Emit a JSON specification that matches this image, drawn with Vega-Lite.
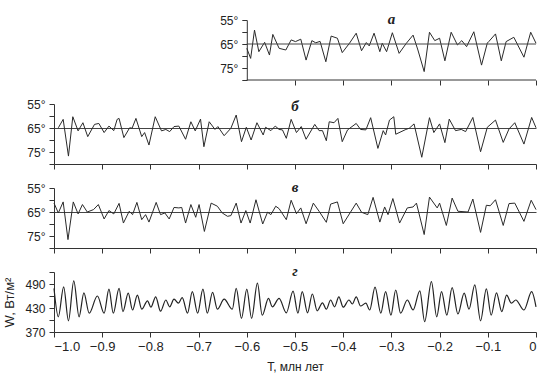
{
  "$schema": "https://vega.github.io/schema/vega-lite/v6.json",
  "padding": {"left": 3, "top": 11, "right": 8, "bottom": 4},
  "background": "white",
  "config": {
    "view": {"stroke": null},
    "axis": {"domainColor": "#333", "tickColor": "#333", "labelColor": "#222", "titleColor": "#222", "labelFont": "Liberation Sans", "titleFont": "Liberation Sans", "labelFontSize": 12, "grid": false, "tickSize": 5, "titleFontWeight": "normal", "labelPadding": 4, "labelOverlap": false},
    "title": {"font": "Liberation Serif", "fontSize": 15, "fontStyle": "italic", "fontWeight": "bold", "color": "#222", "anchor": "middle", "frame": "group", "baseline": "alphabetic"}
  },
  "datasets": {
    "a": [
      {"T": -0.600, "v": 66.8}, {"T": -0.592, "v": 71.0}, {"T": -0.584, "v": 59.2}, {"T": -0.575, "v": 68.2}, {"T": -0.563, "v": 64.3}, {"T": -0.553, "v": 69.6}, {"T": -0.546, "v": 61.0}, {"T": -0.533, "v": 66.8}, {"T": -0.519, "v": 67.5}, {"T": -0.508, "v": 63.3}, {"T": -0.499, "v": 64.0}, {"T": -0.488, "v": 63.0}, {"T": -0.477, "v": 71.7}, {"T": -0.465, "v": 63.6}, {"T": -0.457, "v": 64.5}, {"T": -0.448, "v": 63.9}, {"T": -0.436, "v": 72.4}, {"T": -0.425, "v": 61.7}, {"T": -0.412, "v": 62.6}, {"T": -0.402, "v": 68.6}, {"T": -0.387, "v": 64.7}, {"T": -0.373, "v": 60.5}, {"T": -0.362, "v": 67.8}, {"T": -0.352, "v": 64.4}, {"T": -0.346, "v": 65.8}, {"T": -0.336, "v": 60.5}, {"T": -0.324, "v": 68.2}, {"T": -0.319, "v": 64.7}, {"T": -0.310, "v": 68.2}, {"T": -0.298, "v": 60.3}, {"T": -0.284, "v": 68.9}, {"T": -0.269, "v": 64.7}, {"T": -0.255, "v": 61.3}, {"T": -0.245, "v": 67.5}, {"T": -0.232, "v": 76.5}, {"T": -0.221, "v": 60.1}, {"T": -0.210, "v": 63.6}, {"T": -0.200, "v": 62.6}, {"T": -0.189, "v": 72.0}, {"T": -0.176, "v": 60.1}, {"T": -0.163, "v": 65.4}, {"T": -0.154, "v": 63.6}, {"T": -0.144, "v": 66.1}, {"T": -0.129, "v": 59.9}, {"T": -0.113, "v": 73.8}, {"T": -0.101, "v": 64.6}, {"T": -0.098, "v": 64.0}, {"T": -0.084, "v": 60.8}, {"T": -0.072, "v": 72.0}, {"T": -0.062, "v": 64.0}, {"T": -0.046, "v": 62.2}, {"T": -0.025, "v": 70.5}, {"T": -0.011, "v": 60.1}, {"T": 0.0, "v": 64.7}
    ],
    "b": [
      {"T": -0.991, "v": 64.9}, {"T": -0.981, "v": 61.4}, {"T": -0.970, "v": 76.7}, {"T": -0.961, "v": 60.3}, {"T": -0.950, "v": 66.2}, {"T": -0.940, "v": 62.8}, {"T": -0.930, "v": 68.6}, {"T": -0.916, "v": 63.5}, {"T": -0.907, "v": 63.1}, {"T": -0.896, "v": 66.9}, {"T": -0.886, "v": 64.2}, {"T": -0.876, "v": 66.1}, {"T": -0.869, "v": 61.4}, {"T": -0.865, "v": 61.0}, {"T": -0.855, "v": 69.0}, {"T": -0.843, "v": 64.9}, {"T": -0.838, "v": 65.1}, {"T": -0.830, "v": 61.0}, {"T": -0.818, "v": 68.6}, {"T": -0.812, "v": 66.9}, {"T": -0.803, "v": 72.1}, {"T": -0.790, "v": 60.3}, {"T": -0.777, "v": 66.2}, {"T": -0.768, "v": 65.6}, {"T": -0.760, "v": 66.5}, {"T": -0.751, "v": 64.4}, {"T": -0.741, "v": 64.2}, {"T": -0.727, "v": 69.7}, {"T": -0.716, "v": 62.4}, {"T": -0.707, "v": 66.2}, {"T": -0.696, "v": 61.3}, {"T": -0.689, "v": 72.8}, {"T": -0.678, "v": 62.4}, {"T": -0.666, "v": 65.6}, {"T": -0.660, "v": 64.4}, {"T": -0.647, "v": 68.2}, {"T": -0.633, "v": 65.1}, {"T": -0.622, "v": 59.6}, {"T": -0.611, "v": 70.7}, {"T": -0.601, "v": 64.7}, {"T": -0.591, "v": 70.0}, {"T": -0.579, "v": 62.8}, {"T": -0.566, "v": 67.9}, {"T": -0.561, "v": 64.7}, {"T": -0.550, "v": 66.1}, {"T": -0.541, "v": 64.2}, {"T": -0.533, "v": 65.6},
      {"T": -0.526, "v": 65.8}, {"T": -0.518, "v": 69.3}, {"T": -0.508, "v": 61.4}, {"T": -0.497, "v": 66.9}, {"T": -0.487, "v": 64.4}, {"T": -0.477, "v": 69.7}, {"T": -0.459, "v": 63.5}, {"T": -0.450, "v": 66.1}, {"T": -0.443, "v": 66.1}, {"T": -0.435, "v": 70.3}, {"T": -0.429, "v": 62.4}, {"T": -0.419, "v": 62.8}, {"T": -0.411, "v": 61.0}, {"T": -0.402, "v": 70.7}, {"T": -0.391, "v": 65.8}, {"T": -0.373, "v": 63.1}, {"T": -0.364, "v": 65.6}, {"T": -0.353, "v": 65.8}, {"T": -0.343, "v": 60.7}, {"T": -0.328, "v": 73.5}, {"T": -0.317, "v": 66.1}, {"T": -0.312, "v": 67.9}, {"T": -0.304, "v": 61.7}, {"T": -0.295, "v": 60.3}, {"T": -0.291, "v": 67.6}, {"T": -0.270, "v": 65.6}, {"T": -0.263, "v": 65.1}, {"T": -0.253, "v": 63.3}, {"T": -0.237, "v": 77.2}, {"T": -0.221, "v": 60.7}, {"T": -0.212, "v": 66.9}, {"T": -0.200, "v": 63.3}, {"T": -0.189, "v": 71.1}, {"T": -0.180, "v": 61.3}, {"T": -0.167, "v": 66.1}, {"T": -0.155, "v": 65.6}, {"T": -0.146, "v": 66.5}, {"T": -0.131, "v": 60.6}, {"T": -0.115, "v": 74.9}, {"T": -0.101, "v": 64.7}, {"T": -0.084, "v": 61.7}, {"T": -0.068, "v": 71.0}, {"T": -0.056, "v": 65.4}, {"T": -0.044, "v": 62.8}, {"T": -0.025, "v": 71.7}, {"T": -0.009, "v": 60.6}, {"T": 0.0, "v": 64.9}
    ],
    "c": [
      {"T": -1.000, "v": 61.3}, {"T": -0.991, "v": 65.4}, {"T": -0.981, "v": 60.8}, {"T": -0.971, "v": 76.5}, {"T": -0.960, "v": 60.8}, {"T": -0.950, "v": 65.8}, {"T": -0.941, "v": 61.9}, {"T": -0.931, "v": 65.0}, {"T": -0.918, "v": 64.0}, {"T": -0.908, "v": 61.9}, {"T": -0.896, "v": 67.9}, {"T": -0.886, "v": 64.4}, {"T": -0.876, "v": 65.8}, {"T": -0.865, "v": 61.4}, {"T": -0.856, "v": 69.6}, {"T": -0.844, "v": 64.7}, {"T": -0.837, "v": 66.1}, {"T": -0.828, "v": 61.0}, {"T": -0.818, "v": 68.2}, {"T": -0.810, "v": 66.1}, {"T": -0.803, "v": 69.2}, {"T": -0.788, "v": 61.0}, {"T": -0.779, "v": 66.1}, {"T": -0.770, "v": 65.4}, {"T": -0.761, "v": 67.9}, {"T": -0.751, "v": 63.1}, {"T": -0.741, "v": 63.3}, {"T": -0.735, "v": 63.1}, {"T": -0.727, "v": 69.6}, {"T": -0.716, "v": 61.9}, {"T": -0.706, "v": 67.2}, {"T": -0.699, "v": 61.9}, {"T": -0.688, "v": 73.1}, {"T": -0.674, "v": 61.3}, {"T": -0.661, "v": 62.6}, {"T": -0.651, "v": 65.4}, {"T": -0.640, "v": 66.8}, {"T": -0.633, "v": 66.5}, {"T": -0.622, "v": 61.3}, {"T": -0.612, "v": 69.6}, {"T": -0.602, "v": 64.4}, {"T": -0.593, "v": 69.6}, {"T": -0.581, "v": 59.9}, {"T": -0.567, "v": 70.0}, {"T": -0.557, "v": 65.1}, {"T": -0.550, "v": 66.1}, {"T": -0.540, "v": 62.6}, {"T": -0.533, "v": 63.6},
      {"T": -0.518, "v": 68.2}, {"T": -0.508, "v": 60.1}, {"T": -0.497, "v": 65.7}, {"T": -0.488, "v": 63.3}, {"T": -0.477, "v": 69.9}, {"T": -0.462, "v": 61.3}, {"T": -0.450, "v": 64.7}, {"T": -0.435, "v": 69.3}, {"T": -0.426, "v": 61.7}, {"T": -0.412, "v": 60.8}, {"T": -0.400, "v": 69.9}, {"T": -0.373, "v": 61.3}, {"T": -0.362, "v": 65.1}, {"T": -0.349, "v": 66.1}, {"T": -0.338, "v": 58.9}, {"T": -0.324, "v": 69.2}, {"T": -0.314, "v": 62.9}, {"T": -0.307, "v": 66.1}, {"T": -0.297, "v": 59.4}, {"T": -0.283, "v": 69.6}, {"T": -0.267, "v": 63.3}, {"T": -0.255, "v": 62.9}, {"T": -0.248, "v": 61.3}, {"T": -0.232, "v": 74.4}, {"T": -0.221, "v": 58.8}, {"T": -0.205, "v": 63.3}, {"T": -0.200, "v": 61.3}, {"T": -0.186, "v": 70.6}, {"T": -0.174, "v": 59.2}, {"T": -0.162, "v": 64.7}, {"T": -0.141, "v": 65.0}, {"T": -0.131, "v": 59.6}, {"T": -0.115, "v": 73.5}, {"T": -0.103, "v": 62.2}, {"T": -0.095, "v": 62.4}, {"T": -0.084, "v": 59.9}, {"T": -0.068, "v": 70.6}, {"T": -0.056, "v": 61.5}, {"T": -0.044, "v": 61.3}, {"T": -0.025, "v": 68.9}, {"T": -0.010, "v": 60.1}, {"T": 0.0, "v": 64.0}
    ],
    "w": [
      {"T": -1.000, "W": 479}, {"T": -0.991, "W": 408}, {"T": -0.980, "W": 483}, {"T": -0.970, "W": 398}, {"T": -0.959, "W": 498}, {"T": -0.948, "W": 408}, {"T": -0.938, "W": 468}, {"T": -0.927, "W": 417}, {"T": -0.910, "W": 460}, {"T": -0.896, "W": 417}, {"T": -0.886, "W": 477}, {"T": -0.877, "W": 417}, {"T": -0.865, "W": 479}, {"T": -0.857, "W": 421}, {"T": -0.846, "W": 467}, {"T": -0.837, "W": 425}, {"T": -0.827, "W": 462}, {"T": -0.818, "W": 427}, {"T": -0.806, "W": 448}, {"T": -0.799, "W": 432}, {"T": -0.789, "W": 458}, {"T": -0.779, "W": 422}, {"T": -0.768, "W": 450}, {"T": -0.760, "W": 433}, {"T": -0.751, "W": 452}, {"T": -0.742, "W": 442}, {"T": -0.734, "W": 456}, {"T": -0.723, "W": 417}, {"T": -0.713, "W": 471}, {"T": -0.702, "W": 417}, {"T": -0.691, "W": 477}, {"T": -0.682, "W": 417}, {"T": -0.671, "W": 469}, {"T": -0.661, "W": 427}, {"T": -0.647, "W": 452}, {"T": -0.630, "W": 427}, {"T": -0.622, "W": 479}, {"T": -0.611, "W": 404}, {"T": -0.600, "W": 477}, {"T": -0.590, "W": 404}, {"T": -0.578, "W": 492}, {"T": -0.568, "W": 412}, {"T": -0.555, "W": 454}, {"T": -0.547, "W": 433}, {"T": -0.533, "W": 454},
      {"T": -0.518, "W": 418}, {"T": -0.504, "W": 472}, {"T": -0.494, "W": 417}, {"T": -0.485, "W": 471}, {"T": -0.474, "W": 418}, {"T": -0.464, "W": 465}, {"T": -0.454, "W": 423}, {"T": -0.443, "W": 443}, {"T": -0.435, "W": 427}, {"T": -0.426, "W": 450}, {"T": -0.418, "W": 433}, {"T": -0.409, "W": 458}, {"T": -0.400, "W": 432}, {"T": -0.388, "W": 450}, {"T": -0.381, "W": 440}, {"T": -0.373, "W": 458}, {"T": -0.364, "W": 435}, {"T": -0.353, "W": 442}, {"T": -0.345, "W": 425}, {"T": -0.334, "W": 482}, {"T": -0.322, "W": 417}, {"T": -0.312, "W": 471}, {"T": -0.301, "W": 412}, {"T": -0.291, "W": 475}, {"T": -0.281, "W": 417}, {"T": -0.267, "W": 450}, {"T": -0.255, "W": 425}, {"T": -0.241, "W": 473}, {"T": -0.231, "W": 396}, {"T": -0.217, "W": 496}, {"T": -0.206, "W": 408}, {"T": -0.196, "W": 471}, {"T": -0.185, "W": 412}, {"T": -0.174, "W": 481}, {"T": -0.162, "W": 415}, {"T": -0.149, "W": 467}, {"T": -0.139, "W": 427}, {"T": -0.127, "W": 488}, {"T": -0.115, "W": 398}, {"T": -0.103, "W": 478}, {"T": -0.093, "W": 412}, {"T": -0.082, "W": 468}, {"T": -0.071, "W": 421}, {"T": -0.061, "W": 462}, {"T": -0.051, "W": 442}, {"T": -0.042, "W": 450}, {"T": -0.025, "W": 425}, {"T": -0.009, "W": 471}, {"T": 0.0, "W": 433}
    ]
  },
  "vconcat": [
    {
      "width": 482, "height": 60,
      "title": {"text": "а", "offset": -12.5, "dx": 96.4},
      "resolve": {"axis": {"x": "independent", "y": "independent"}},
      "layer": [
        {
          "data": {"name": "a"},
          "mark": {"type": "line", "color": "#2a2a2a", "strokeWidth": 1},
          "encoding": {
            "x": {"field": "T", "type": "quantitative", "scale": {"domain": [-1, 0], "nice": false, "zero": false},
                  "axis": {"title": null, "labels": false, "domain": false, "values": [-0.5, -0.4, -0.3, -0.2, -0.1, 0]}},
            "y": {"field": "v", "type": "quantitative", "scale": {"domain": [55, 80], "reverse": true, "nice": false, "zero": false},
                  "axis": {"title": null, "offset": -192.8, "labelOverlap": false, "values": [55, 60, 65, 70, 75, 80], "labelExpr": "datum.value == 55 || datum.value == 65 || datum.value == 75 ? datum.value + '°' : ''"}}
          }
        },
        {
          "data": {"values": [{}]},
          "mark": {"type": "rule", "color": "#444", "strokeWidth": 1},
          "encoding": {"x": {"datum": -0.6, "axis": null}, "x2": {"datum": 0}, "y": {"datum": 65, "axis": null}}
        },
        {
          "data": {"values": [{}]},
          "mark": {"type": "rule", "color": "#333", "strokeWidth": 1},
          "encoding": {"x": {"datum": -0.6, "axis": null}, "x2": {"datum": 0}, "y": {"datum": 80, "axis": null}}
        }
      ]
    },
    {
      "width": 482, "height": 60,
      "title": {"text": "б", "offset": -16},
      "data": {"name": "b"},
      "mark": {"type": "line", "color": "#2a2a2a", "strokeWidth": 1},
      "encoding": {
        "x": {"field": "T", "type": "quantitative", "scale": {"domain": [-1, 0], "nice": false, "zero": false},
              "axis": {"title": null, "labels": false, "values": [-1, -0.9, -0.8, -0.7, -0.6, -0.5, -0.4, -0.3, -0.2, -0.1, 0]}},
        "y": {"field": "v", "type": "quantitative", "scale": {"domain": [55, 80], "reverse": true, "nice": false, "zero": false},
              "axis": {"title": null, "labelOverlap": false, "values": [55, 60, 65, 70, 75, 80], "labelExpr": "datum.value == 55 || datum.value == 65 || datum.value == 75 ? datum.value + '°' : ''",
                       "grid": true, "gridColor": "#444", "gridWidth": 1, "gridOpacity": {"condition": {"test": "datum.value == 65", "value": 1}, "value": 0}}}
      }
    },
    {
      "width": 482, "height": 60,
      "title": {"text": "в", "offset": -12.5},
      "data": {"name": "c"},
      "mark": {"type": "line", "color": "#2a2a2a", "strokeWidth": 1},
      "encoding": {
        "x": {"field": "T", "type": "quantitative", "scale": {"domain": [-1, 0], "nice": false, "zero": false},
              "axis": {"title": null, "labels": false, "values": [-1, -0.9, -0.8, -0.7, -0.6, -0.5, -0.4, -0.3, -0.2, -0.1, 0]}},
        "y": {"field": "v", "type": "quantitative", "scale": {"domain": [55, 80], "reverse": true, "nice": false, "zero": false},
              "axis": {"title": null, "labelOverlap": false, "values": [55, 60, 65, 70, 75, 80], "labelExpr": "datum.value == 55 || datum.value == 65 || datum.value == 75 ? datum.value + '°' : ''",
                       "grid": true, "gridColor": "#444", "gridWidth": 1, "gridOpacity": {"condition": {"test": "datum.value == 65", "value": 1}, "value": 0}}}
      }
    },
    {
      "width": 482, "height": 60,
      "title": {"text": "г", "offset": -12.5},
      "data": {"name": "w"},
      "mark": {"type": "line", "color": "#222", "strokeWidth": 1.2, "interpolate": "monotone"},
      "encoding": {
        "x": {"field": "T", "type": "quantitative", "scale": {"domain": [-1, 0], "nice": false, "zero": false},
              "axis": {"title": "T, млн лет", "titleFontSize": 12, "titlePadding": 8, "labelFontSize": 13, "labelPadding": 3, "values": [-1, -0.9, -0.8, -0.7, -0.6, -0.5, -0.4, -0.3, -0.2, -0.1, 0], "labelExpr": "datum.value == 0 ? '0' : format(datum.value, '.1f')"}},
        "y": {"field": "W", "type": "quantitative", "scale": {"domain": [370, 520], "nice": false, "zero": false},
              "axis": {"title": "W, Вт/м²", "titleFontSize": 13, "titlePadding": 8, "values": [370, 400, 430, 460, 490, 520], "labelExpr": "datum.value == 370 || datum.value == 430 || datum.value == 490 ? datum.label : ''"}}
      }
    }
  ],
  "spacing": 24,
  "bounds": "flush"
}
